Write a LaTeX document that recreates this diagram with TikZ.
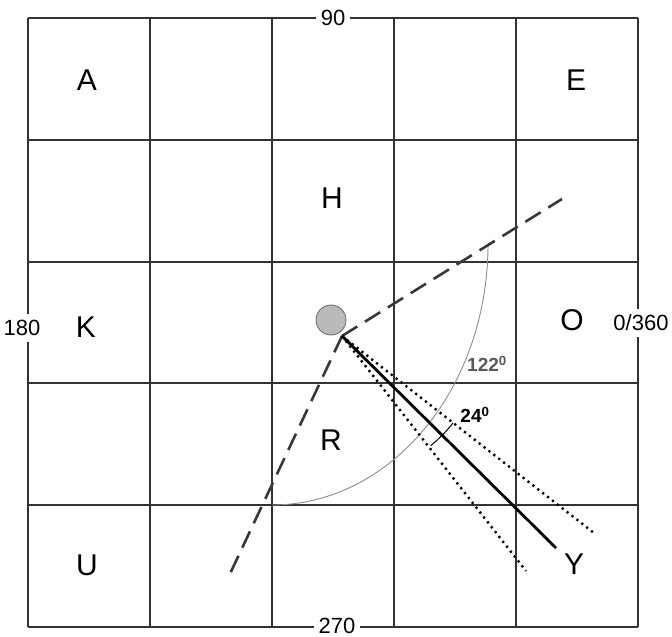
\documentclass[tikz,border=0pt]{standalone}
\usepackage{fontspec}
\setmainfont{Liberation Sans}
\usetikzlibrary{calc}
\begin{document}
\begin{tikzpicture}[x=1pt,y=-1pt,
  gridline/.style={draw=black!80,line width=1.6},
  letter/.style={font=\fontsize{30}{30}\selectfont,inner sep=0pt},
  axislabel/.style={font=\fontsize{22}{22}\selectfont,fill=white,inner xsep=5pt,inner ysep=1pt},
  dashline/.style={draw=black!78,line width=2.6,dash pattern=on 18pt off 9pt},
  dotline/.style={draw=black,line width=2.4,dash pattern=on 2.2pt off 4pt},
  mainline/.style={draw=black,line width=2.8},
  anglearc/.style={draw=black!45,line width=0.9},
  anglelabel/.style={font=\bfseries\fontsize{19}{19}\selectfont,inner sep=0pt}]
\useasboundingbox (0,0) rectangle (672,637);
% grid
\foreach \x in {28,150,272,394,516,638} \draw[gridline] (\x,18) -- (\x,627);
\foreach \y in {18,140,262,383,505,627} \draw[gridline] (28,\y) -- (638,\y);
% axis labels
\node[axislabel] (n90) at (333,18) {90};
\node[axislabel] (n270) at (337,626) {270};
\node[axislabel,inner xsep=2pt,inner ysep=6pt] (n180) at (22,328) {180};
\node[axislabel,inner xsep=2pt,inner ysep=6pt] (n0) at (641,323) {0/360};
% cell letters
\node[letter] (A) at (87,80) {A};
\node[letter] (E) at (576,80) {E};
\node[letter] (H) at (332,198) {H};
\node[letter] (K) at (86,327) {K};
\node[letter] (O) at (572,320) {O};
\node[letter] (R) at (331,440) {R};
\node[letter] (U) at (87,565) {U};
\node[letter] (Y) at (574,564) {Y};
% vertex and ends
\coordinate (V) at (342,336);
\coordinate (D1) at (562,199);
\coordinate (D2) at (228,578);
\coordinate (S) at (556,548);
\coordinate (P1) at (594,533);
\coordinate (P2) at (526,571);
% big angle arc
\draw[anglearc] (488,244) arc[start angle=0,end angle=90,x radius=216,y radius=261];
% lines
\draw[dashline] (V) -- (D1);
\draw[dashline] (V) -- (D2);
\draw[dotline] (V) -- (P1);
\draw[dotline] (V) -- (P2);
\draw[mainline] (V) -- (S);
% small angle arc
\draw[draw=black,line width=1] ($(V)+(38:141)$) arc[start angle=38,end angle=51,radius=141];
% circle
\node[circle,draw=black!60,fill=black!27,line width=0.8,minimum size=30pt,inner sep=0pt] (C) at (331,320) {};
% angle labels
\node[anglelabel,text=black!65] (L122) at (487,364) {122\textsuperscript{0}};
\node[anglelabel] (L24) at (475,415) {24\textsuperscript{0}};
\end{tikzpicture}
\end{document}
